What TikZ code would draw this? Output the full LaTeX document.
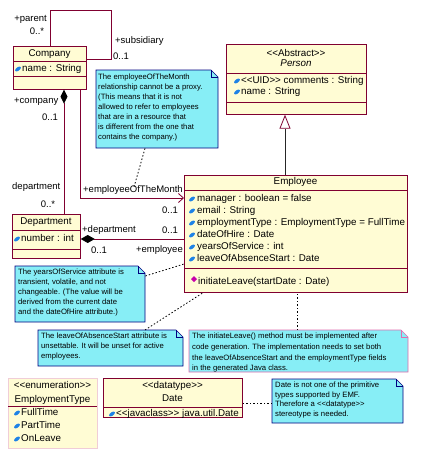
\documentclass[tikz,border=0pt]{standalone}
\usepackage{fontspec}
\setmainfont{Liberation Sans}
\usetikzlibrary{arrows.meta}
\definecolor{umlred}{RGB}{128,0,48}
\definecolor{clsfill}{RGB}{255,252,212}
\definecolor{notefill}{RGB}{135,238,246}
\definecolor{notenavy}{RGB}{0,0,128}
\definecolor{notepink}{RGB}{225,110,175}
\definecolor{lightpink}{RGB}{240,205,215}
\definecolor{iconblue}{RGB}{30,130,230}
\definecolor{iconmag}{RGB}{200,0,170}
\newcommand\stl{<\kern0pt<}
\newcommand\stg{>\kern0pt>}
\newcommand\attricon[2]{\fill[iconblue, rotate around={35:(#1,#2)}] (#1,#2) ellipse (3.4 and 1.8);}
\newcommand\opicon[2]{\fill[iconmag] (#1,#2-3) -- (#1+3,#2) -- (#1,#2+3) -- (#1-3,#2) -- cycle;}
% x1 y1 x2 y2 border name
\newcommand\umlnote[6]{%
  \filldraw[fill=notefill, draw=#5, line width=0.7pt] (#1,#2) -- (#3-7,#2) -- (#3,#2+7) -- (#3,#4) -- (#1,#4) -- cycle;
  \draw[#5, line width=0.6pt] (#3-7,#2) -- (#3-7,#2+7) -- (#3,#2+7);
  \node[inner sep=0pt, minimum width=#3-#1, minimum height=#4-#2, anchor=north west] (#6) at (#1,#2) {};}
\begin{document}
\begin{tikzpicture}[x=1pt,y=-1pt,
  cls/.style={draw=umlred, fill=clsfill, line width=0.7pt, inner sep=0pt, anchor=north west},
  divl/.style={draw=umlred, line width=0.7pt},
  ct/.style={font=\fontsize{9.8}{12}\selectfont, inner sep=0pt, text height=7pt, text depth=2pt},
  ca/.style={ct, anchor=west},
  lb/.style={font=\fontsize{9.5}{11}\selectfont, inner sep=0pt, text height=7pt, text depth=2pt},
  nt/.style={font=\fontsize{7.7}{10}\selectfont, inner sep=0pt, align=left, anchor=north west},
  assoc/.style={draw=umlred, line width=0.8pt},
  noteln/.style={draw=black, line width=0.8pt, dash pattern=on 1.5pt off 2pt}
]
\fill[white] (0,0) rectangle (421,460);
\useasboundingbox (0,0) rectangle (421,460);

% ---------- Company ----------
\node[cls, minimum width=73, minimum height=43] (company) at (13,46) {};
\draw[divl] (13,61) -- (86,61) (13,76) -- (86,76);
\node[ct] (companyT) at (49.5,54) {Company};
\attricon{18}{69}
\node[ca] (companyA) at (22,69) {name : String};

% ---------- Department ----------
\node[cls, minimum width=68, minimum height=44] (dept) at (12,214) {};
\draw[divl] (12,230) -- (80,230) (12,249) -- (80,249);
\node[ct] (deptT) at (46,222) {Department};
\attricon{17}{239}
\node[ca] (deptA) at (21,239) {number : int};

% ---------- Person ----------
\node[cls, minimum width=140, minimum height=70] (person) at (226,44) {};
\draw[divl] (226,73) -- (366,73) (226,102) -- (366,102);
\node[ct] (personS) at (296,54) {\stl Abstract\stg};
\node[ct, font=\fontsize{9.8}{12}\selectfont\itshape] (personT) at (296,64) {Person};
\attricon{237}{81}
\node[ca] (personA1) at (241,81) {\stl UID\stg\ comments : String};
\attricon{237}{92}
\node[ca] (personA2) at (241,92) {name : String};

% ---------- Employee ----------
\node[cls, minimum width=223, minimum height=117] (emp) at (184,175) {};
\draw[divl] (184,190) -- (407,190) (184,268) -- (407,268);
\node[ct] (empT) at (295.5,182) {Employee};
\attricon{192}{199}
\node[ca] (empA1) at (197,199) {manager : boolean = false};
\attricon{192}{211}
\node[ca] (empA2) at (197,211) {email : String};
\attricon{192}{223}
\node[ca] (empA3) at (197,223) {employmentType : EmploymentType = FullTime};
\attricon{192}{235}
\node[ca] (empA4) at (197,235) {dateOfHire : Date};
\attricon{192}{247}
\node[ca] (empA5) at (197,247) {yearsOfService : int};
\attricon{192}{259}
\node[ca] (empA6) at (197,259) {leaveOfAbsenceStart : Date};
\opicon{194}{279}
\node[ca] (empO1) at (198,282) {initiateLeave(startDate : Date)};

% ---------- EmploymentType ----------
\node[cls, draw=lightpink, minimum width=89, minimum height=70] (enum) at (8,378) {};
\draw[divl] (8,406) -- (97,406);
\node[ct] (enumS) at (52.5,386) {\stl enumeration\stg};
\node[ct] (enumT) at (52.5,400) {EmploymentType};
\attricon{17}{413}
\node[ca] (enumL1) at (21,413) {FullTime};
\attricon{17}{426}
\node[ca] (enumL2) at (21,426) {PartTime};
\attricon{17}{439}
\node[ca] (enumL3) at (21,439) {OnLeave};

% ---------- Date ----------
\node[cls, minimum width=139, minimum height=39] (date) at (103,378) {};
\draw[divl] (103,407) -- (242,407);
\node[ct] (dateS) at (172.5,386) {\stl datatype\stg};
\node[ct] (dateT) at (172.5,399) {Date};
\attricon{112}{414}
\node[ca] (dateA) at (116,414) {\stl javaclass\stg\ java.util.Date};

% ---------- Associations ----------
\draw[assoc] (company.north -| 50,0) -- (50,10) -- (111,10) -- (111,59) -- (company.east |- 0,59);
\node[lb, anchor=east] (lparent) at (47,19) {+parent};
\node[lb] (lparentm) at (37,32) {0..*};
\node[lb, anchor=west] (lsub) at (115,41) {+subsidiary};
\node[lb] (lsubm) at (121,57) {0..1};

\draw[assoc, {Diamond[length=14pt,width=7pt,color=black,fill=black]}-] (company.south -| 64,0) -- (dept.north -| 64,0);
\node[lb, anchor=west] (lcomp) at (14,101) {+company};
\node[lb] (lcompm) at (50,118) {0..1};
\node[lb, anchor=west] (ldep) at (12,187) {department};
\node[lb] (ldepm) at (48,205) {0..*};

\draw[assoc, -{Straight Barb[length=5pt,width=9pt]}] (company.south -| 80,0) -- (80,198) -- (emp.west |- 0,198);
\node[lb, anchor=west] (leom) at (83,190) {+employeeOfTheMonth};
\node[lb] (leomm) at (170,211) {0..1};

\draw[assoc, {Diamond[length=14pt,width=8pt,color=black,fill=black]}-] (dept.east |- 0,239) -- (emp.west |- 0,239);
\node[lb, anchor=west] (ldept2) at (82,230) {+department};
\node[lb] (ldept2m) at (99,251) {0..1};
\node[lb] (lempm) at (170,231) {0..1};
\node[lb, anchor=east] (lemp) at (183,250) {+employee};

\draw[black!85, line width=0.8pt, -{Triangle[open, length=14pt, width=11pt, color=umlred, line width=0.8pt]}] (emp.north -| 285,0) -- (person.south -| 285,0);

% ---------- Notes ----------
\umlnote{96}{70}{218}{148}{notenavy}{note1}
\node[nt] (note1t) at (98,74) {The employeeOfTheMonth\\relationship cannot be a proxy.\\(This means that it is not\\allowed to refer to employees\\that are in a resource that\\is different from the one that\\contains the company.)};

\umlnote{15}{266}{145}{322}{notenavy}{note2}
\node[nt] (note2t) at (18,269) {The yearsOfService attribute is\\transient, volatile, and not\\changeable. (The value will be\\derived from the current date\\and the dateOfHire attribute.)};

\umlnote{38}{330}{183}{366}{notenavy}{note3}
\node[nt] (note3t) at (41,333) {The leaveOfAbsenceStart attribute is\\unsettable. It will be unset for active\\employees.};

\umlnote{189}{330}{408}{372}{notepink}{note4}
\node[nt, font=\fontsize{7.7}{10.7}\selectfont] (note4t) at (192,333) {The initiateLeave() method must be implemented after\\code generation. The implementation needs to set both\\the leaveOfAbsenceStart and the employmentType fields\\in the generated Java class.};

\umlnote{272}{379}{403}{423}{notenavy}{note5}
\node[nt, font=\fontsize{7.7}{9.5}\selectfont] (note5t) at (275,382) {Date is not one of the primitive\\types supported by EMF.\\Therefore a \stl datatype\stg\\stereotype is needed.};

% ---------- Note anchors ----------
\coordinate (eomA) at (134,187);
\draw[noteln] (note1.south -| 145,0) -- (eomA);
\draw[noteln] (note2.east |- 0,276) -- (emp.west |- 0,264);
\draw[noteln] (note3.north -| 145,0) -- (emp.south -| 203,0);
\draw[noteln] (note4.north -| 297,0) -- (emp.south -| 297,0);
\draw[noteln] (note5.west |- 0,403) -- (date.east |- 0,403);
\end{tikzpicture}
\end{document}
